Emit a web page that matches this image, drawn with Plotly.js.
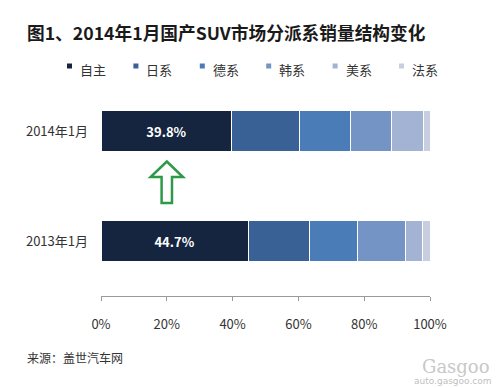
<!DOCTYPE html>
<html>
<head>
<meta charset="utf-8">
<script src="https://cdn.plot.ly/plotly-3.0.1.min.js"></script>
<style>html,body{margin:0;padding:0;background:#fff;}#chart{width:500px;height:388px;}</style>
</head>
<body>
<div id="chart"></div>
<script>
const categories = ['2013年1月', '2014年1月'];
const seriesNames = ['自主', '日系', '德系', '韩系', '美系', '法系'];
const ziZhu = [44.7, 39.8];
const riXi  = [18.6, 20.6];
const deXi  = [14.8, 15.4];
const hanXi = [14.5, 12.6];
const meiXi = [5.2, 9.6];
const faXi  = [2.2, 2.0];
const seriesValues = [ziZhu, riXi, deXi, hanXi, meiXi, faXi];
const tickVals = [0, 20, 40, 60, 80, 100];
const tickText = ['0%', '20%', '40%', '60%', '80%', '100%'];

const colors = ['#15253F', '#3A6196', '#4A7CB8', '#7594C6', '#A3B3D3', '#C7CEDF'];
const FONT = '"Noto Sans CJK SC", "Microsoft YaHei", sans-serif';

const traces = seriesNames.map((name, i) => ({
  type: 'bar',
  orientation: 'h',
  name: name,
  y: categories,
  x: seriesValues[i],
  marker: {color: colors[i], line: {color: '#ffffff', width: 1}},
  text: i === 0 ? seriesValues[i].map(v => v.toFixed(1) + '%') : null,
  textposition: i === 0 ? 'inside' : 'none',
  insidetextanchor: 'middle',
  textangle: 0,
  textfont: {color: '#ffffff', size: 13, family: FONT, weight: 'bold'},
  hoverinfo: 'x+name'
}));

// plot area in pixels: x 101..430, y 76..296
const L = 101, R = 430, T = 76, B = 296;
const px = x => (x - L) / (R - L);
const py = y => (B - y) / (B - T);

const arrowPts = [
  [166.8, 161.5], [183, 177], [172, 177], [172, 203], [161.6, 203], [161.6, 177], [150.6, 177]
];
const arrowPath = arrowPts.map((p, i) => (i ? 'L' : 'M') + px(p[0]).toFixed(4) + ',' + py(p[1]).toFixed(4)).join(' ') + ' Z';

// legend drawn from the series names and colours
const legStart = 67, legStep = 66.4;
const legendShapes = seriesNames.map((n, i) => ({
  type: 'rect', xref: 'paper', yref: 'paper',
  x0: px(legStart + legStep * i), x1: px(legStart + legStep * i + 5),
  y0: py(68.5), y1: py(63.5),
  fillcolor: colors[i], line: {width: 0}
}));
const legendLabels = seriesNames.map((n, i) => ({
  text: n, xref: 'paper', yref: 'paper',
  x: px(legStart + legStep * i + 11), y: py(69.5),
  xanchor: 'left', yanchor: 'middle', showarrow: false,
  font: {size: 13, color: '#333333', family: FONT}
}));

const layout = {
  width: 500, height: 388,
  margin: {l: L, r: 500 - R, t: T, b: 388 - B},
  paper_bgcolor: '#ffffff', plot_bgcolor: '#ffffff',
  barmode: 'stack',
  bargap: 0.63,
  font: {family: FONT, color: '#333333', size: 12},
  title: {
    text: '<b>图1、2014年1月国产SUV市场分派系销量结构变化</b>',
    font: {family: FONT, size: 17.7, color: '#1a1a1a'},
    x: 27 / 500, xanchor: 'left', xref: 'container',
    y: 1 - 34 / 388, yanchor: 'middle', yref: 'container'
  },
  xaxis: {
    range: [0, 100], tickvals: tickVals, ticktext: tickText,
    showgrid: false, zeroline: false,
    showline: true, linecolor: '#9a9a9a', linewidth: 1,
    ticks: 'outside', ticklen: 4, tickcolor: '#9a9a9a',
    tickfont: {size: 13, color: '#333333', family: FONT},
    ticklabelstandoff: 12, fixedrange: true
  },
  yaxis: {
    type: 'category', categoryorder: 'array', categoryarray: categories,
    showgrid: false, zeroline: false, showline: false, ticks: '',
    tickfont: {size: 13, color: '#333333', family: FONT},
    ticklabelstandoff: 12, fixedrange: true
  },
  showlegend: false,
  shapes: [{
    type: 'path', xref: 'paper', yref: 'paper', path: arrowPath,
    line: {color: '#2E9A48', width: 2.5}, fillcolor: 'rgba(0,0,0,0)'
  }].concat(legendShapes),
  annotations: [
    {text: '来源：盖世汽车网', xref: 'paper', yref: 'paper', x: px(25), y: py(357), xanchor: 'left', yanchor: 'middle', showarrow: false, font: {size: 12, color: '#333333', family: FONT}},
    {text: 'Gasgoo', xref: 'paper', yref: 'paper', x: px(492), y: py(366), xanchor: 'right', yanchor: 'middle', showarrow: false, font: {size: 18, color: '#c8c8c8', family: 'DejaVu Serif'}},
    {text: 'auto.gasgoo.com', xref: 'paper', yref: 'paper', x: px(494), y: py(381), xanchor: 'right', yanchor: 'middle', showarrow: false, font: {size: 9, color: '#c0c0c0', family: 'DejaVu Sans'}}
  ].concat(legendLabels)
};

Plotly.newPlot('chart', traces, layout, {displayModeBar: false, staticPlot: true});
</script>
</body>
</html>
